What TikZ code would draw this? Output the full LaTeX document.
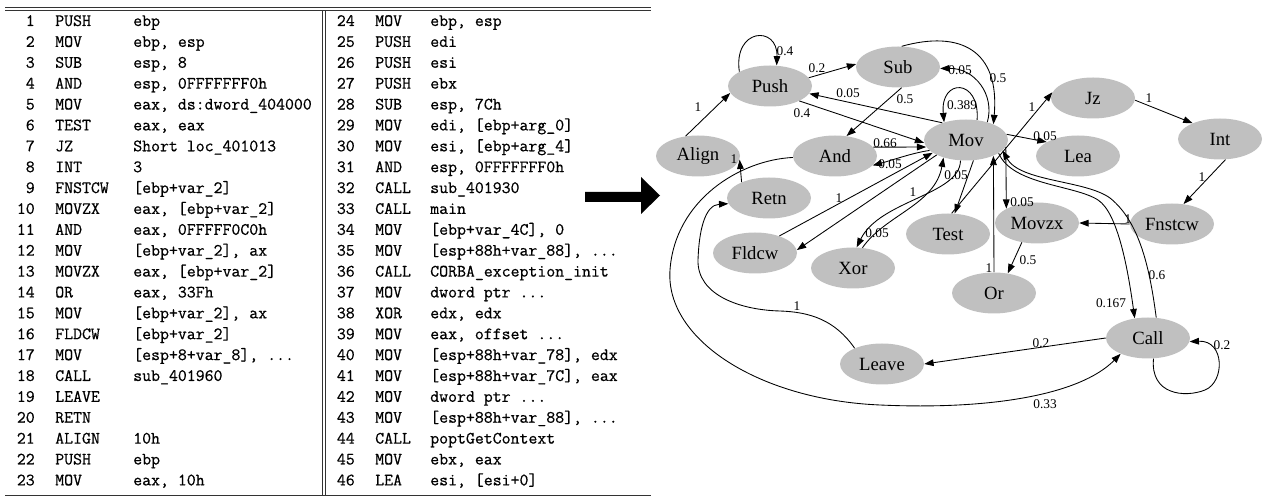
\documentclass[tikz,border=0pt]{standalone}
\usepackage{fontspec}
\newfontfamily\gfont{Liberation Serif}
\newfontfamily\tabfont{Latin Modern Mono}[FakeBold=0.6]
\usetikzlibrary{shapes.geometric,arrows.meta}
\definecolor{nodegray}{RGB}{192,192,192}
\begin{document}
\begin{tikzpicture}[x=0.75pt,y=-0.75pt,
  st/.style={ellipse,fill=nodegray,minimum width=63pt,minimum height=30.75pt,inner sep=0pt,font=\gfont\fontsize{14}{16}\selectfont},
  e/.style={-{Triangle[length=7pt,width=5pt]},line width=0.65pt},
  lab/.style={font=\gfont\fontsize{10}{11}\selectfont,inner sep=0pt},
  tt/.style={font=\tabfont\fontsize{13}{15}\selectfont,inner sep=0pt,anchor=base west},
  rule/.style={line width=0.75pt,black!80}]
\useasboundingbox (0,0) rectangle (1275,498);
% ---------- table ----------
\draw[rule] (5,7.3) -- (651,7.3);
\draw[rule] (5,10.7) -- (651,10.7);
\draw[rule] (5,496) -- (651,496);
\draw[rule] (322,10.7) -- (322,496);
\draw[rule] (325.5,10.7) -- (325.5,496);
\foreach \n/\m/\o in {1/PUSH/{ebp}, 2/MOV/{ebp, esp}, 3/SUB/{esp, 8}, 4/AND/{esp, 0FFFFFFF0h},
  5/MOV/{eax, ds:dword\_404000}, 6/TEST/{eax, eax}, 7/JZ/{Short loc\_401013}, 8/INT/{3},
  9/FNSTCW/{[ebp+var\_2]}, 10/MOVZX/{eax, [ebp+var\_2]}, 11/AND/{eax, 0FFFFF0C0h},
  12/MOV/{[ebp+var\_2], ax}, 13/MOVZX/{eax, [ebp+var\_2]}, 14/OR/{eax, 33Fh},
  15/MOV/{[ebp+var\_2], ax}, 16/FLDCW/{[ebp+var\_2]}, 17/MOV/{[esp+8+var\_8], ...},
  18/CALL/{sub\_401960}, 19/LEAVE/{}, 20/RETN/{}, 21/ALIGN/{10h}, 22/PUSH/{ebp}, 23/MOV/{eax, 10h}}{
  \pgfmathsetmacro\yy{26+(\n-1)*20.88}
  \node[tt,anchor=base east] (ln\n) at (35,\yy) {\n};
  \node[tt] (lm\n) at (55,\yy) {\m};
  \node[tt] (lo\n) at (133,\yy) {\o};
}
\foreach \n/\m/\o in {24/MOV/{ebp, esp}, 25/PUSH/{edi}, 26/PUSH/{esi}, 27/PUSH/{ebx},
  28/SUB/{esp, 7Ch}, 29/MOV/{edi, [ebp+arg\_0]}, 30/MOV/{esi, [ebp+arg\_4]},
  31/AND/{esp, 0FFFFFFF0h}, 32/CALL/{sub\_401930}, 33/CALL/{main}, 34/MOV/{[ebp+var\_4C], 0},
  35/MOV/{[esp+88h+var\_88], ...}, 36/CALL/{CORBA\_exception\_init}, 37/MOV/{dword ptr ...},
  38/XOR/{edx, edx}, 39/MOV/{eax, offset ...}, 40/MOV/{[esp+88h+var\_78], edx},
  41/MOV/{[esp+88h+var\_7C], eax}, 42/MOV/{dword ptr ...}, 43/MOV/{[esp+88h+var\_88], ...},
  44/CALL/{poptGetContext}, 45/MOV/{ebx, eax}, 46/LEA/{esi, [esi+0]}}{
  \pgfmathsetmacro\yy{26+(\n-24)*20.88}
  \node[tt,anchor=base east] (rn\n) at (355,\yy) {\n};
  \node[tt] (rm\n) at (375,\yy) {\m};
  \node[tt] (ro\n) at (430,\yy) {\o};
}
% ---------- big arrow ----------
\fill[black] (585,192) -- (641,192) -- (641,177) -- (660,195.5) -- (641,214) -- (641,202) -- (585,202) -- cycle;
% ---------- graph nodes ----------
\node[st] (push) at (770,86) {Push};
\node[st] (sub) at (898,67) {Sub};
\node[st] (align) at (698,156) {Align};
\node[st] (andi) at (835,156) {And};
\node[st] (retn) at (769,198) {Retn};
\node[st] (mov) at (966,140) {Mov};
\node[st] (lea) at (1078,156) {Lea};
\node[st] (jz) at (1093,98) {Jz};
\node[st] (inti) at (1220,139) {Int};
\node[st] (test) at (948,234) {Test};
\node[st] (movzx) at (1037,223) {Movzx};
\node[st] (fnstcw) at (1172,224) {Fnstcw};
\node[st] (fldcw) at (755,253) {Fldcw};
\node[st] (xori) at (853,268) {Xor};
\node[st] (ori) at (994,293) {Or};
\node[st] (call) at (1148,338) {Call};
\node[st] (leave) at (882,364) {Leave};
% ---------- edges ----------
\draw[e] (align.122) -- (push.190);
\draw[e] (push.155) .. controls (733,28) and (778,25) .. (push.72);
\draw[e] (push.12) -- (sub.176);
\draw[e] (mov.144) -- (push.349);
\draw[e] (push.333) -- (mov.184);
\draw[e] (sub.280) -- (andi.60);
\draw[e] (andi.13) -- (mov.190);
\draw[e] (mov.196) .. controls (912,153) and (893,160) .. (andi.346);
\draw[e] (fldcw.35) -- (mov.201);
\draw[e] (mov.207) -- (fldcw.4);
\draw[e] (xori.65) .. controls (885,215) and (935,205) .. (mov.218);
\draw[e] (mov.255) .. controls (960,195) and (880,200) .. (xori.80);
\draw[e] (mov.290) -- (test.72);
\draw[e] (test.80) -- (jz.172);
\draw[e] (mov.61) .. controls (980,78) and (940,78) .. (mov.141);
\draw[e] (mov.40) .. controls (995,95) and (975,68) .. (sub.358);
\draw[e] (sub.80) .. controls (960,30) and (1000,50) .. (mov.30);
\draw[e] (mov.8) -- (lea.156);
\draw[e] (jz.357) -- (inti.150);
\draw[e] (inti.285) -- (fnstcw.60);
\draw[e] (fnstcw.west) -- (movzx.east);
\draw[e] (mov.-10) -- (movzx.155);
\draw[e] (ori.north) -- (mov.-30);
\draw[e] (movzx.232) -- (ori.55);
\draw[e] (mov.-22) .. controls (1012,185) and (1075,185) .. (1098,200) .. controls (1118,213) and (1128,270) .. (call.124);
\draw[e] (call.68) .. controls (1150,270) and (1140,222) .. (1110,198) .. controls (1085,180) and (1020,182) .. (mov.-16);
\draw[e] (call.west) -- (leave.east);
\draw[e] (call.285) .. controls (1150,395) and (1185,398) .. (1205,390) .. controls (1225,382) and (1225,340) .. (call.355);
\draw[e] (leave.150) .. controls (835,320) and (810,312) .. (780,311) .. controls (740,310) and (697,295) .. (698,260) .. controls (699,230) and (705,205) .. (retn.188);
\draw[e] (retn.150) -- (align.-5);
\draw[e] (andi.182) .. controls (740,160) and (675,200) .. (670,270) .. controls (665,340) and (760,400) .. (880,405) .. controls (990,410) and (1080,395) .. (call.210);
% ---------- labels ----------
\node[lab] (t1) at (698,107) {1};
\node[lab] (t2) at (785,51) {0.4};
\node[lab] (t3) at (817,68) {0.2};
\node[lab] (t4) at (848,93) {0.05};
\node[lab] (t5) at (802,113) {0.4};
\node[lab] (t6) at (905,99) {0.5};
\node[lab] (t7) at (885,143) {0.66};
\node[lab] (t8) at (890,164) {0.05};
\node[lab] (t9) at (839,198) {1};
\node[lab] (t10) at (913,192) {1};
\node[lab] (t11) at (877,233) {0.05};
\node[lab] (t12) at (956,175) {0.05};
\node[lab] (t13) at (1032,107) {1};
\node[lab] (t14) at (962,105) {0.389};
\node[lab] (t15) at (960,70) {0.05};
\node[lab] (t16) at (998,78) {0.5};
\node[lab] (t17) at (1045,136) {0.05};
\node[lab] (t18) at (1149,98) {1};
\node[lab] (t19) at (1202,177) {1};
\node[lab] (t20) at (1128,219) {1};
\node[lab] (t21) at (1022,202) {0.05};
\node[lab] (t22) at (989,268) {1};
\node[lab] (t23) at (1028,260) {0.5};
\node[lab] (t24) at (1111,303) {0.167};
\node[lab] (t25) at (1157,275) {0.6};
\node[lab] (t26) at (1041,343) {0.2};
\node[lab] (t27) at (1222,345) {0.2};
\node[lab] (t28) at (797,306) {1};
\node[lab] (t29) at (734,159) {1};
\node[lab] (t30) at (1045,404) {0.33};
\end{tikzpicture}
\end{document}
